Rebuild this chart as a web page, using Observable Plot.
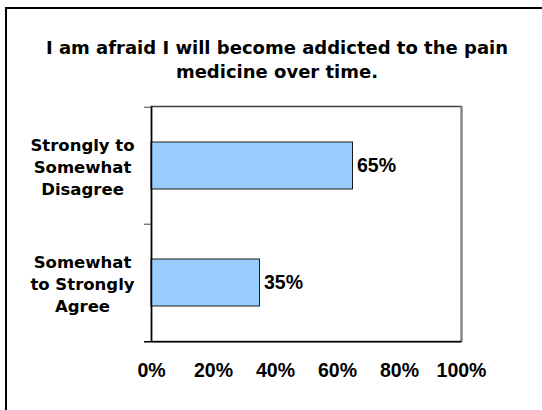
<!DOCTYPE html>
<html>
<head>
<meta charset="utf-8">
<script src="https://cdn.jsdelivr.net/npm/d3@7"></script>
<script src="https://cdn.jsdelivr.net/npm/@observablehq/plot@0.6"></script>
<style>
  html, body { margin: 0; padding: 0; background: #fff; }
  #wrap { position: relative; width: 542px; height: 410px; overflow: hidden; background: #fff; }
  #box { position: absolute; left: 5px; top: 7px; width: 700px; height: 600px;
         border-left: 2px solid #000; border-top: 2px solid #000; }
  #title { position: absolute; left: 6px; width: 542px; top: 36px; text-align: center;
           font-family: "DejaVu Sans", sans-serif; font-weight: bold; font-size: 18px;
           line-height: 23.5px; color: #000; }
  #chart { position: absolute; left: 0; top: 0; }
</style>
</head>
<body>
<div id="wrap">
  <div id="box"></div>
  <div id="chart"></div>
  <div id="title">I am afraid I will become addicted to the pain<br>medicine over time.</div>
</div>
<script>
const categories = ["Strongly to Somewhat Disagree", "Somewhat to Strongly Agree"];
const categoryLabels = ["Strongly to\nSomewhat\nDisagree", "Somewhat\nto Strongly\nAgree"];
const values = [0.65, 0.35];
const xTicks = [0, 0.2, 0.4, 0.6, 0.8, 1.0];

const data = categories.map((c, i) => ({category: c, value: values[i]}));
const labelOf = new Map(categories.map((c, i) => [c, categoryLabels[i]]));

const W = 542, H = 410;
const mT = 106, mB = 69, mL = 151, mR = 81;
const step = (H - mT - mB) / categories.length;
const tickExt = 7 / (W - mL - mR);
const numFont = "'Liberation Sans', Arial, sans-serif";

const chart = Plot.plot({
  width: W,
  height: H,
  marginTop: mT,
  marginBottom: mB,
  marginLeft: mL,
  marginRight: mR,
  style: {background: "transparent", color: "#000"},
  x: {domain: [0, 1], axis: null, label: null},
  y: {domain: categories, paddingInner: 0.6, paddingOuter: 0.3, axis: null, label: null},
  marks: [
    Plot.frame({stroke: "#404040", strokeWidth: 1.5}),
    Plot.ruleX([1], {stroke: "#808080", strokeWidth: 2}),
    Plot.barX(data, {x: "value", y: "category", fill: "#99ccff", stroke: "#1a1a1a", strokeWidth: 1}),
    Plot.ruleY(categories, {y: d => d, dy: -step / 2, x1: -tickExt, x2: 0, stroke: "#606060", strokeWidth: 1.2}),
    Plot.ruleY([categories[categories.length - 1]], {y: d => d, dy: step / 2, x1: -tickExt, x2: 1, stroke: "#000", strokeWidth: 1.5}),
    Plot.ruleX([0], {stroke: "#000", strokeWidth: 1.5}),
    Plot.text(data, {x: "value", y: "category", text: d => d3.format(".0%")(d.value),
      textAnchor: "start", dx: 4, fontSize: 19.5, fontWeight: "bold", fontFamily: numFont, fill: "#000"}),
    Plot.axisX({ticks: xTicks, tickFormat: d3.format(".0%"), tickSize: 0, tickPadding: 22, label: null,
      fontSize: 19.5, fontWeight: "bold", fontFamily: numFont, fill: "#000"}),
    Plot.axisY({tickSize: 0, tickPadding: 69, textAnchor: "middle", tickFormat: d => labelOf.get(d), label: null,
      lineHeight: 1.33, fontSize: 16.5, fontWeight: "bold", fontFamily: "'DejaVu Sans', sans-serif", fill: "#000"})
  ]
});
document.getElementById("chart").appendChild(chart);
</script>
</body>
</html>
